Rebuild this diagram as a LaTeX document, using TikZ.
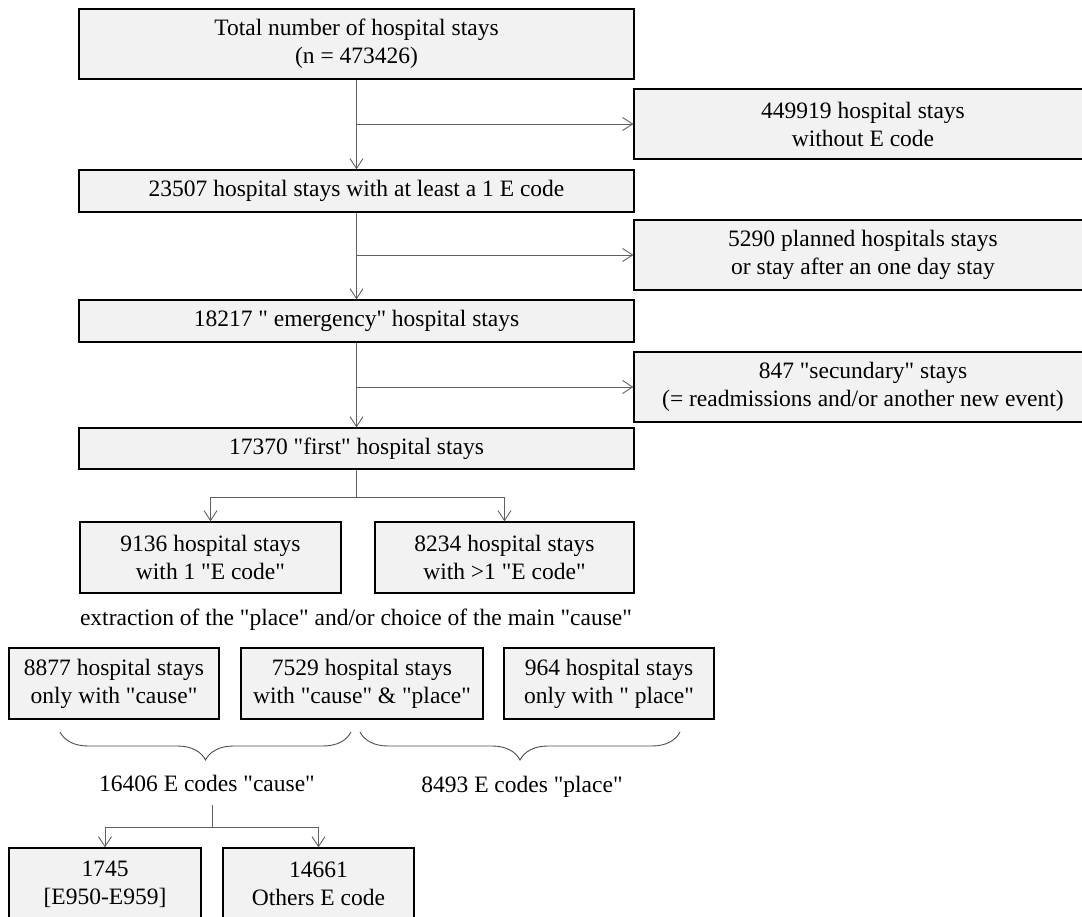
\documentclass[tikz,border=0pt]{standalone}
\usepackage{fontspec}
\setmainfont{Liberation Serif}
\usetikzlibrary{arrows.meta,positioning,calc,decorations.pathreplacing}
\newcommand{\qq}{\textquotedbl}

\begin{document}
\begin{tikzpicture}[x=1pt, y=-1pt,
    box/.style={draw, line width=1.2pt, fill=black!5, align=center, inner sep=0pt,
        font=\fontsize{23.5}{28}\selectfont},
    lbl/.style={align=center, inner sep=0pt, font=\fontsize{23.5}{28}\selectfont},
    arr/.style={-{Straight Barb[length=10pt,width=13pt]}, line width=0.9pt, gray!75!black},
    lin/.style={line width=0.9pt, gray!75!black},
    brace/.style={decorate, decoration={brace, mirror, amplitude=28pt}, line width=0.9pt, gray!60!black}
]
\useasboundingbox (0,0) rectangle (1082,917);
\clip (0,0) rectangle (1082,917);

% main column
\node[box, minimum width=555pt, minimum height=70pt] (total) at (356.5,44) {Total number of hospital stays\\(n = 473426)};
\node[box, minimum width=555pt, minimum height=42pt] (atleast) at (356.5,191) {23507 hospital stays with at least a 1 E code};
\node[box, minimum width=555pt, minimum height=42pt] (emerg) at (356.5,321) {18217 \qq\ emergency\qq\ hospital stays};
\node[box, minimum width=555pt, minimum height=41pt] (first) at (356.5,448.5) {17370 \qq first\qq\ hospital stays};

% excluded stays
\node[box, minimum width=458pt, minimum height=70pt] (noE) at (863,124) {449919 hospital stays\\without E code};
\node[box, minimum width=458pt, minimum height=70pt] (planned) at (863,255) {5290 planned hospitals stays\\or stay after an one day stay};
\node[box, minimum width=458pt, minimum height=70pt] (secund) at (863,387) {847 \qq secundary\qq\ stays\\(= readmissions and/or another new event)};

\draw[arr] (total.south) -- (atleast.north);
\draw[arr] (atleast.south) -- (emerg.north);
\draw[arr] (emerg.south) -- (first.north);
\coordinate (b1) at (356.5,124);
\coordinate (b2) at (356.5,255);
\coordinate (b3) at (356.5,387);
\draw[arr] (b1) -- (noE.west);
\draw[arr] (b2) -- (planned.west);
\draw[arr] (b3) -- (secund.west);

% number of E codes
\node[box, minimum width=261pt, minimum height=71pt] (one) at (210.5,557.5) {9136 hospital stays\\with 1 \qq E code\qq};
\node[box, minimum width=259pt, minimum height=71pt] (more) at (504.5,557.5) {8234 hospital stays\\with >1 \qq E code\qq};
\draw[lin] (first.south) -- ++(0,28) coordinate (s1);
\draw[arr] (s1) -| (one.north);
\draw[arr] (s1) -| (more.north);

\node[lbl] (extr) at (356,620) {extraction of the \qq place\qq\ and/or choice of the main \qq cause\qq};

% cause / place
\node[box, minimum width=210pt, minimum height=71pt] (cause) at (114,683.5) {8877 hospital stays\\only with \qq cause\qq};
\node[box, minimum width=242pt, minimum height=71pt] (both) at (362,683.5) {7529 hospital stays\\with \qq cause\qq\ \& \qq place\qq};
\node[box, minimum width=210pt, minimum height=71pt] (place) at (609,683.5) {964 hospital stays\\only with \qq\ place\qq};

\draw[brace] (60,732) -- (351,732);
\draw[brace] (360,732) -- (680,732);
\node[lbl] (ncause) at (207,783) {16406 E codes \qq cause\qq};
\node[lbl] (nplace) at (522,787) {8493 E codes \qq place\qq};

% suicide codes
\node[box, minimum width=192pt, minimum height=72pt] (suic) at (105,884) {1745\\{}[E950-E959]};
\node[box, minimum width=191pt, minimum height=72pt] (others) at (318.5,884) {14661\\Others E code};
\coordinate (s2) at (212.5,805);
\draw[lin] (s2) -- ++(0,22) coordinate (s3);
\draw[arr] (s3) -| (suic.north);
\draw[arr] (s3) -| (others.north);
\end{tikzpicture}
\end{document}
